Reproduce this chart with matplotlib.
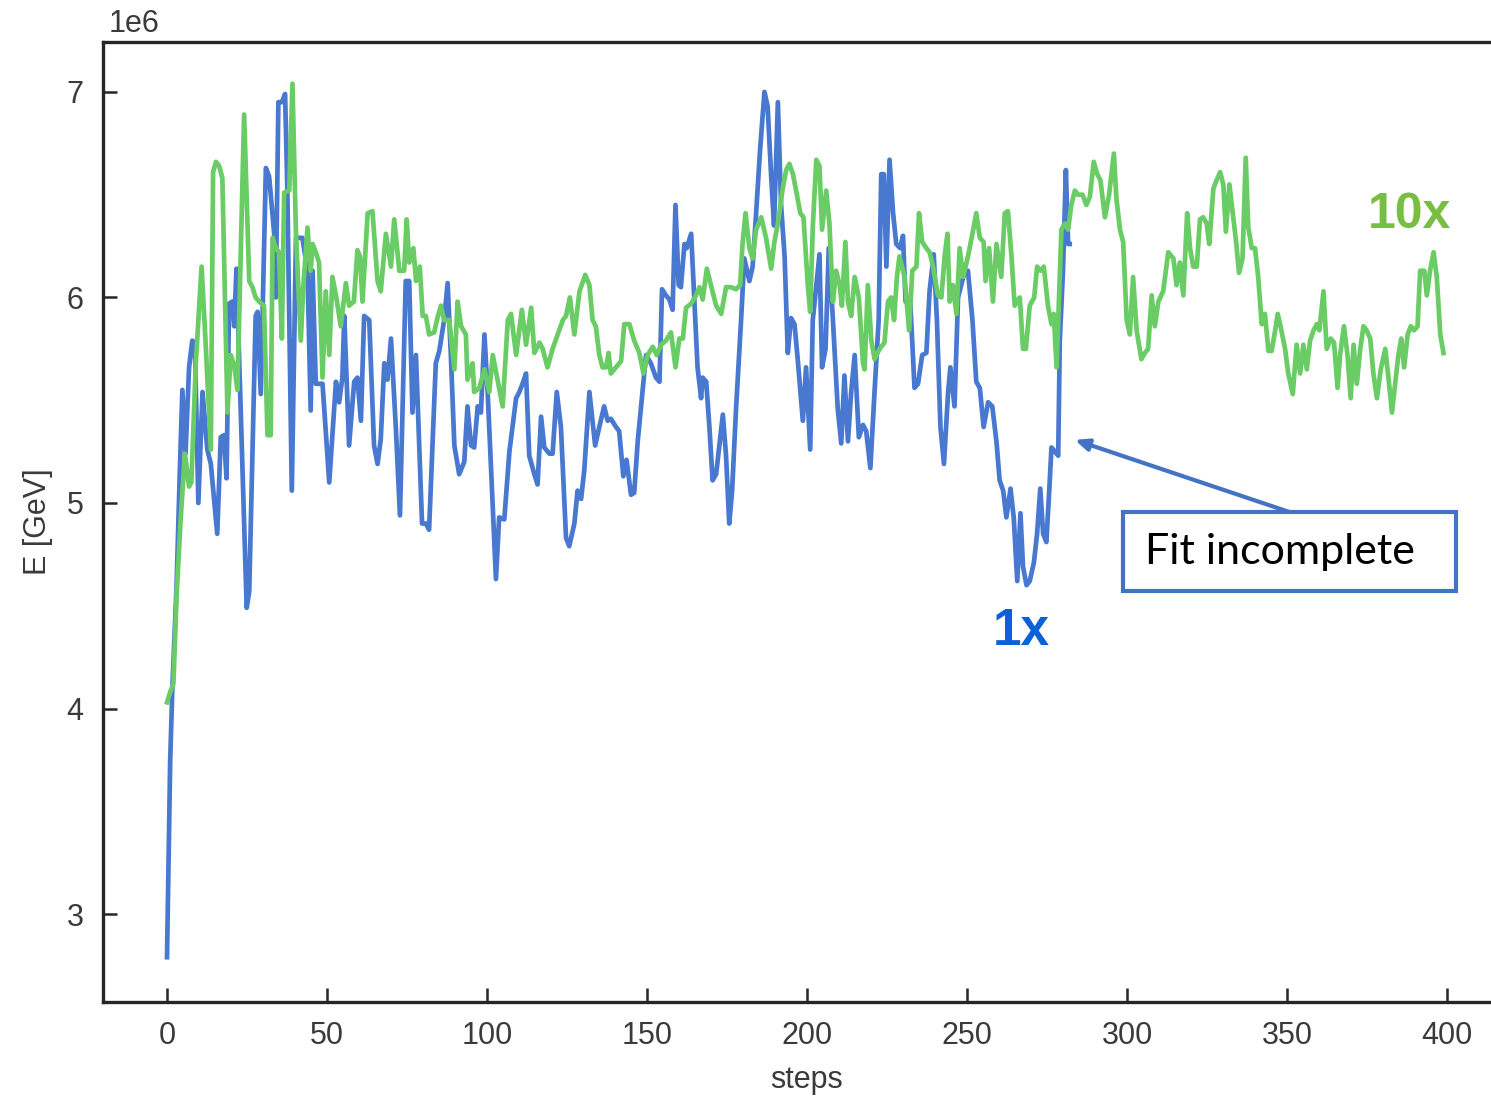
import numpy as np
import matplotlib
matplotlib.use("Agg")
import matplotlib.pyplot as plt
from matplotlib.patches import Rectangle

# energy per optimisation step, in units of 1e6 GeV
steps_1x = [0, 1, 1.7, 3, 4, 4.8, 5.8, 6.9, 7.9, 8.7, 9.8, 11.1, 12.6, 13.7, 15.7, 16.8, 17.8, 18.6,
            19.4, 20.4, 21.0, 21.7, 24.9, 25.7, 27.7, 28.3, 29.3, 30.9, 31.9, 33.5, 34.0, 34.8, 35.9,
            36.9, 37.6, 39.0, 40.3, 42.3, 43.9, 44.9, 45.5, 46.5, 48.6, 50.7, 52.8, 53.8, 54.8, 55.4,
            56.9, 58.5, 59.5, 60.6, 61.6, 63.2, 64.7, 65.8, 66.8, 67.9, 68.9, 70.0, 71.5, 72.8, 74.6,
            75.7, 76.7, 77.8, 79.7, 80.9, 81.9, 84.0, 85.1, 86.6, 87.7, 88.7, 89.8, 91.3, 92.9, 93.9,
            95.0, 96.0, 97.1, 98.1, 99.2, 100.2, 102.8, 103.8, 105.4, 107.0, 109.1, 110.1, 111.1,
            112.2, 113.2, 114.8, 115.8, 116.9, 117.9, 119.5, 120.5, 121.8, 123.1, 124.7, 125.7, 127.3,
            128.3, 129.4, 130.4, 132.0, 133.8, 135.1, 136.6, 137.7, 138.7, 140.3, 141.3, 142.6, 143.6,
            145.0, 146.0, 147.1, 148.1, 149.7, 151.2, 152.8, 153.9, 154.7, 155.9, 157.0, 158.0, 158.9,
            159.9, 160.6, 161.7, 162.4, 163.8, 164.8, 165.8, 166.9, 167.4, 168.5, 169.5, 170.5, 171.6,
            172.6, 173.7, 174.7, 175.7, 176.6, 177.8, 179.4, 180.4, 182.0, 183.0, 184.1, 185.3, 186.7,
            187.7, 188.8, 189.7, 190.9, 191.9, 193.0, 194.0, 195.0, 196.1, 197.1, 198.7, 199.7, 201.0,
            201.8, 202.9, 203.9, 204.7, 205.8, 206.8, 208.1, 209.6, 210.7, 211.7, 212.8, 213.8, 214.9,
            216.2, 217.5, 218.5, 219.8, 221.1, 222.4, 223.2, 224.0, 224.8, 225.8, 226.9, 227.9, 229.1,
            230.0, 230.8, 232.2, 233.6, 234.7, 236.0, 237.3, 238.3, 239.6, 240.6, 241.7, 242.8, 244.1,
            244.8, 246.1, 247.2, 248.2, 249.3, 250.3, 251.7, 252.9, 254.0, 255.2, 256.6, 257.9, 259.2,
            260.2, 261.3, 262.3, 263.6, 264.6, 265.7, 266.7, 267.5, 268.6, 269.6, 270.9, 271.9, 272.9,
            273.8, 274.8, 275.7, 276.4, 277.5, 278.5, 279.0, 280.0, 280.9, 281.6, 282.1]
energy_1x = [2.79, 3.75, 4.11, 4.6, 5.15, 5.55, 5.24, 5.66, 5.79, 5.78, 5.0, 5.54, 5.26, 5.19, 4.85,
             5.32, 5.33, 5.12, 5.97, 5.98, 5.86, 6.14, 4.49, 4.57, 5.91, 5.93, 5.53, 6.63, 6.59, 6.31,
             6.0, 6.95, 6.95, 6.99, 6.53, 5.06, 6.29, 6.29, 6.13, 5.45, 6.13, 5.58, 5.58, 5.1, 5.59,
             5.49, 5.61, 5.91, 5.28, 5.59, 5.61, 5.4, 5.91, 5.89, 5.28, 5.19, 5.31, 5.68, 5.6, 5.8,
             5.37, 4.94, 6.08, 6.08, 5.44, 5.72, 4.9, 4.9, 4.87, 5.68, 5.74, 5.89, 6.07, 5.72, 5.28,
             5.14, 5.2, 5.47, 5.28, 5.27, 5.47, 5.44, 5.82, 5.54, 4.63, 4.93, 4.92, 5.25, 5.51, 5.54,
             5.58, 5.63, 5.23, 5.14, 5.09, 5.42, 5.27, 5.24, 5.24, 5.54, 5.37, 4.83, 4.79, 4.9, 5.06,
             5.02, 5.16, 5.54, 5.28, 5.37, 5.47, 5.4, 5.41, 5.37, 5.35, 5.13, 5.21, 5.04, 5.05, 5.3,
             5.46, 5.72, 5.68, 5.61, 5.59, 6.04, 6.01, 5.99, 5.94, 6.45, 6.06, 6.05, 6.26, 6.24, 6.31,
             5.98, 5.66, 5.51, 5.61, 5.59, 5.37, 5.11, 5.14, 5.28, 5.43, 5.23, 4.9, 5.06, 5.45, 5.89,
             6.19, 6.08, 6.15, 6.41, 6.71, 7.0, 6.93, 6.59, 6.35, 6.95, 6.45, 6.2, 5.73, 5.9, 5.87,
             5.7, 5.4, 5.66, 5.26, 5.89, 6.06, 6.21, 5.66, 5.75, 6.24, 5.89, 5.46, 5.29, 5.62, 5.3,
             5.54, 5.72, 5.32, 5.38, 5.35, 5.17, 5.54, 5.89, 6.6, 6.6, 6.15, 6.67, 6.41, 6.26, 6.24,
             6.3, 5.98, 6.0, 5.56, 5.58, 5.72, 5.73, 6.03, 6.21, 5.89, 5.37, 5.19, 5.54, 5.66, 5.47,
             6.0, 6.06, 6.13, 6.13, 5.89, 5.59, 5.56, 5.37, 5.49, 5.47, 5.3, 5.11, 5.06, 4.93, 5.07,
             4.93, 4.62, 4.95, 4.69, 4.6, 4.62, 4.71, 4.85, 5.07, 4.85, 4.81, 5.06, 5.27, 5.25, 5.23,
             5.79, 6.13, 6.62, 6.26, 6.26]

steps_10x = [0, 1, 2, 3, 4.3, 5.6, 6.9, 7.6, 9.0, 10.8, 12.0, 13.7, 14.4, 15.3, 16.3, 17.3, 18.9, 19.9,
             21.0, 22.0, 24.1, 25.7, 26.7, 27.7, 28.8, 30.3, 31.4, 32.4, 33.0, 34.0, 35.0, 35.9, 36.6,
             38.2, 39.2, 40.3, 41.8, 42.6, 43.9, 44.9, 45.5, 46.5, 47.5, 48.6, 49.6, 50.7, 51.7, 52.9,
             54.3, 55.9, 56.9, 58.4, 59.5, 60.3, 61.1, 62.7, 64.2, 65.8, 66.8, 68.4, 70.0, 71.0, 72.6,
             74.1, 74.9, 75.7, 77.0, 77.8, 79.0, 79.9, 80.9, 81.9, 83.5, 84.5, 85.6, 86.6, 88.2, 89.8,
             90.8, 91.9, 93.4, 93.9, 95.5, 96.0, 97.6, 99.2, 100.7, 101.8, 103.3, 104.9, 106.5, 107.5,
             109.1, 110.9, 112.2, 113.8, 114.8, 116.4, 117.4, 118.9, 120.5, 122.1, 123.7, 124.7, 125.9,
             127.3, 128.9, 130.7, 132.0, 133.0, 134.0, 135.1, 136.1, 137.2, 138.0, 138.7, 140.3, 141.9,
             142.9, 144.5, 146.0, 147.6, 148.9, 150.2, 151.8, 153.0, 154.4, 155.9, 157.5, 158.9, 160.1,
             161.2, 162.2, 163.8, 165.3, 166.4, 167.4, 168.7, 170.0, 171.6, 173.2, 174.7, 176.3, 177.8,
             179.1, 179.9, 180.8, 182.0, 183.0, 184.1, 185.7, 187.2, 188.8, 189.8, 190.9, 192.4, 193.5,
             194.5, 195.6, 196.6, 197.9, 198.9, 200.3, 201.0, 201.8, 202.9, 203.9, 204.7, 206.0, 207.0,
             208.1, 209.1, 210.2, 210.9, 212.0, 212.8, 213.8, 214.9, 216.2, 217.5, 218.0, 219.0, 220.1,
             221.1, 222.7, 224.2, 225.3, 226.3, 227.2, 228.1, 228.9, 230.5, 231.9, 232.9, 234.2, 235.0,
             236.0, 237.3, 238.3, 239.4, 240.9, 242.0, 243.0, 243.9, 244.6, 245.6, 246.7, 247.7, 248.8,
             250.3, 251.7, 252.9, 254.0, 255.2, 255.8, 256.9, 258.1, 259.2, 260.7, 261.8, 262.8, 263.9,
             264.9, 266.5, 267.5, 268.4, 269.6, 271.0, 271.9, 273.0, 274.0, 275.3, 276.4, 277.1, 278.0,
             279.5, 280.6, 281.6, 282.6, 283.7, 284.7, 286.1, 287.3, 288.4, 289.6, 290.7, 291.7, 293.1,
             294.4, 295.9, 296.7, 297.8, 298.8, 299.9, 300.9, 301.9, 303.0, 304.5, 305.6, 306.6, 307.7,
             308.7, 309.8, 311.3, 312.9, 314.5, 315.5, 316.5, 317.6, 318.8, 319.7, 320.7, 321.8, 322.8,
             323.8, 324.9, 325.7, 327.0, 328.0, 329.1, 330.1, 330.9, 332.0, 333.2, 334.1, 335.0, 336.1,
             337.1, 337.9, 339.0, 340.0, 341.0, 342.1, 343.1, 344.2, 345.2, 346.3, 347.1, 348.1, 349.4,
             350.4, 351.8, 353.0, 354.1, 355.1, 356.2, 357.2, 358.3, 359.3, 360.1, 361.4, 362.4, 363.7,
             364.7, 365.8, 366.6, 367.8, 368.9, 369.9, 370.8, 371.8, 372.9, 373.9, 374.9, 376.0, 377.0,
             378.1, 379.3, 380.7, 381.7, 382.8, 383.8, 384.8, 385.7, 386.6, 387.7, 388.7, 389.7, 390.8,
             391.6, 392.9, 393.7, 394.7, 395.8, 396.8, 397.9, 398.9]
energy_10x = [4.03, 4.08, 4.12, 4.55, 4.93, 5.24, 5.08, 5.1, 5.68, 6.15, 5.8, 5.26, 6.61, 6.66, 6.64,
              6.58, 5.44, 5.72, 5.67, 5.55, 6.89, 6.08, 6.05, 6.0, 5.98, 5.96, 5.33, 5.33, 6.29, 6.24,
              6.22, 5.8, 6.51, 6.52, 7.04, 6.31, 5.79, 6.05, 6.34, 6.13, 6.26, 6.22, 6.17, 5.61, 6.03,
              5.72, 6.1, 6.0, 5.86, 6.07, 5.96, 5.98, 6.23, 6.2, 5.98, 6.41, 6.42, 6.08, 6.03, 6.31,
              6.15, 6.38, 6.13, 6.13, 6.38, 6.17, 6.24, 6.08, 6.15, 5.91, 5.91, 5.82, 5.83, 5.9, 5.96,
              5.89, 5.89, 5.65, 5.98, 5.86, 5.82, 5.6, 5.68, 5.54, 5.56, 5.65, 5.54, 5.72, 5.6, 5.47,
              5.89, 5.92, 5.72, 5.94, 5.77, 5.95, 5.73, 5.78, 5.75, 5.66, 5.75, 5.82, 5.89, 5.91, 6.0,
              5.82, 6.03, 6.11, 6.06, 5.89, 5.86, 5.72, 5.66, 5.66, 5.73, 5.63, 5.66, 5.69, 5.87, 5.87,
              5.79, 5.73, 5.63, 5.72, 5.76, 5.72, 5.77, 5.79, 5.83, 5.66, 5.8, 5.8, 5.95, 5.97, 6.01,
              6.05, 5.99, 6.14, 6.06, 5.96, 5.92, 6.05, 6.05, 6.04, 6.06, 6.27, 6.41, 6.24, 6.19, 6.33,
              6.39, 6.29, 6.14, 6.27, 6.36, 6.53, 6.62, 6.65, 6.6, 6.52, 6.41, 6.39, 6.05, 5.93, 6.34,
              6.67, 6.64, 6.33, 6.52, 6.36, 5.98, 6.13, 6.06, 5.96, 6.27, 5.98, 5.91, 6.1, 6.0, 5.68,
              5.65, 6.06, 5.79, 5.7, 5.75, 5.78, 5.98, 6.0, 5.89, 6.1, 6.2, 6.1, 5.84, 6.13, 6.15, 6.41,
              6.27, 6.24, 6.22, 6.15, 6.01, 6.0, 6.2, 6.31, 5.98, 6.06, 5.92, 6.24, 6.1, 6.2, 6.31,
              6.41, 6.29, 6.27, 6.08, 6.24, 5.98, 6.26, 6.1, 6.41, 6.42, 6.2, 5.96, 6.0, 5.75, 5.75,
              5.96, 6.0, 6.15, 6.13, 6.15, 5.96, 5.87, 5.92, 5.66, 6.33, 6.36, 6.33, 6.45, 6.52, 6.5,
              6.5, 6.45, 6.49, 6.66, 6.6, 6.57, 6.39, 6.5, 6.7, 6.48, 6.33, 6.27, 5.89, 5.82, 6.1, 5.84,
              5.7, 5.73, 5.75, 6.01, 5.86, 5.98, 6.03, 6.22, 6.19, 6.06, 6.17, 6.01, 6.41, 6.24, 6.15,
              6.15, 6.38, 6.39, 6.36, 6.26, 6.53, 6.57, 6.61, 6.55, 6.32, 6.55, 6.39, 6.27, 6.12, 6.19,
              6.68, 6.34, 6.24, 6.24, 6.1, 5.87, 5.92, 5.74, 5.74, 5.84, 5.92, 5.85, 5.75, 5.63, 5.53,
              5.77, 5.63, 5.77, 5.65, 5.79, 5.84, 5.87, 5.84, 6.03, 5.75, 5.8, 5.78, 5.56, 5.72, 5.86,
              5.72, 5.51, 5.77, 5.58, 5.75, 5.86, 5.84, 5.8, 5.63, 5.51, 5.65, 5.75, 5.61, 5.44, 5.58,
              5.72, 5.8, 5.66, 5.82, 5.86, 5.84, 5.86, 6.13, 6.13, 6.01, 6.13, 6.22, 6.1, 5.82, 5.73]

x_ticks = [0, 50, 100, 150, 200, 250, 300, 350, 400]
y_ticks = [3, 4, 5, 6, 7]

BLUE = "#4878CF"
GREEN = "#6ACC65"
BOX_BLUE = "#4472C4"
INK = "#262626"
LABEL = "#3a3a3a"

plt.rcParams["font.family"] = ["Liberation Sans", "DejaVu Sans"]

fig = plt.figure(figsize=(14.91, 11), dpi=100)
ax = fig.add_axes([103 / 1491, 98 / 1100, 1408 / 1491, 960 / 1100])

ax.plot(steps_1x, np.array(energy_1x) * 1e6, color=BLUE, lw=3.4, solid_joinstyle="round")
ax.plot(steps_10x, np.array(energy_10x) * 1e6, color=GREEN, lw=3.4, solid_joinstyle="round")

ax.set_xlim(-20, 420)
ax.set_ylim(2.572e6, 7.243e6)
ax.set_xticks(x_ticks)
ax.set_yticks(np.array(y_ticks) * 1e6)

for side in ("left", "bottom", "top", "right"):
    ax.spines[side].set_color(INK)
    ax.spines[side].set_linewidth(2.4)
ax.spines["right"].set_visible(False)

ax.tick_params(direction="in", length=10, width=1.8, color=INK, labelsize=22,
               labelcolor=LABEL, pad=14)
ax.yaxis.OFFSETTEXTPAD = 7
ax.yaxis.get_offset_text().set_fontsize(22)
ax.yaxis.get_offset_text().set_color(LABEL)
ax.yaxis.get_offset_text().set_x(0.004)

ax.set_xlabel("steps", fontsize=22, color=LABEL, labelpad=10)
ax.set_ylabel("E [GeV]", fontsize=22, color=LABEL, labelpad=10)

# series labels
ax.text(258, 4.31e6, "1x", color="#0B62D8", fontsize=37, fontweight="bold", va="baseline")
ax.text(375.3, 6.34e6, "10x", color="#78BE43", fontsize=36, fontweight="bold", va="baseline")

# callout box pointing at the unfinished 1x run
box_x, box_y, box_w, box_h = 0.7244, 0.4281, 0.2365, 0.0823
ax.add_patch(Rectangle((box_x, box_y), box_w, box_h, transform=ax.transAxes,
                       fc="white", ec=BOX_BLUE, lw=3, zorder=5, clip_on=False))
ax.text(box_x + 0.016, box_y + box_h / 2, "Fit incomplete", transform=ax.transAxes,
        ha="left", va="center", fontsize=31, color="black",
        family=["Lato", "DejaVu Sans"], zorder=6)
ax.annotate("", xy=(283.7, 5.307e6), xytext=(box_x + box_w / 2, box_y + box_h),
            textcoords="axes fraction",
            arrowprops=dict(arrowstyle="-|>,head_length=0.8,head_width=0.35", color=BOX_BLUE,
                            lw=3, shrinkA=0, shrinkB=0))

fig.savefig("out.png", dpi=100)
